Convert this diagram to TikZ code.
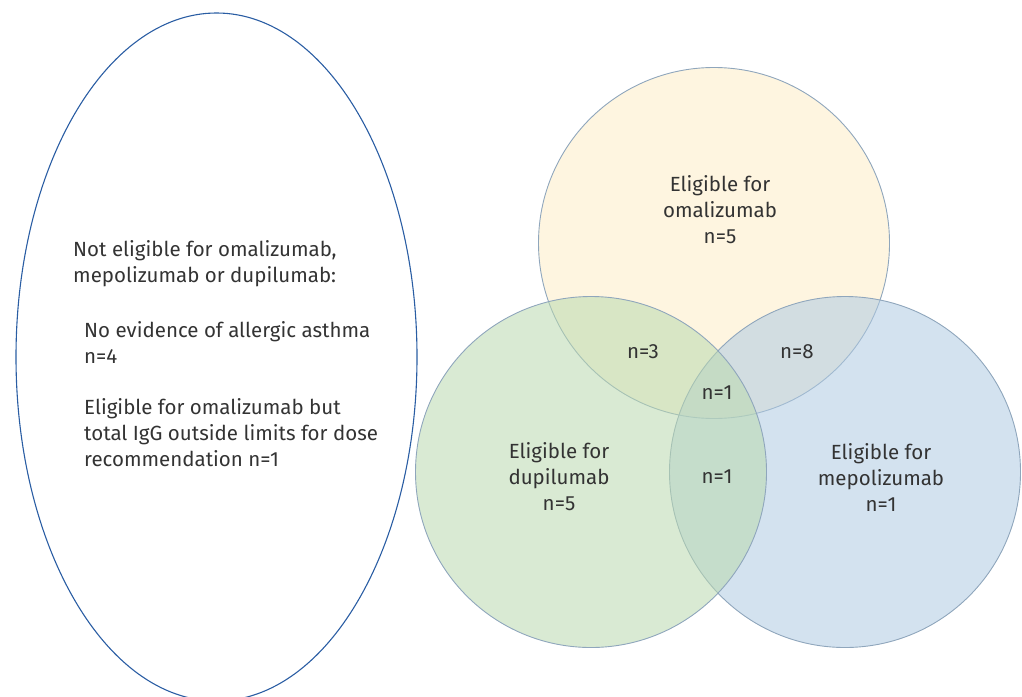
\documentclass[tikz,border=0pt]{standalone}
\usepackage{fontspec}
\setmainfont{Fira Sans}
\usepackage{tikz}
\usetikzlibrary{shapes.geometric,positioning}
\definecolor{ovalline}{RGB}{42,93,163}
\definecolor{ringline}{RGB}{143,166,188}
\definecolor{omafill}{RGB}{253,237,199}
\definecolor{mepfill}{RGB}{175,202,226}
\definecolor{dupfill}{RGB}{186,217,175}
\definecolor{labelgray}{RGB}{51,51,51}

\begin{document}
\begin{tikzpicture}
    [x=1pt,y=-1pt,every node/.style={text=labelgray,font=\fontsize{20.5}{26}\selectfont,inner sep=0pt},
     venn/.style={circle,draw=ringline,line width=0.9pt,fill opacity=0.55,minimum size=351pt},
     tag/.style={align=center}]
    \useasboundingbox (0,0) rectangle (1022,696);

    % the group not eligible for any drug
    \node[ellipse,draw=ovalline,line width=1.1pt,minimum width=401pt,minimum height=688pt] (Ex) at (216.5,357) {};
    \node[align=left,anchor=west] (ExHead) at (73,264) {Not eligible for omalizumab,\\mepolizumab or dupilumab:};
    \node[align=left,anchor=west] (ExAll) at (84,342) {No evidence of allergic asthma\\n=4};
    \node[align=left,anchor=west] (ExIgG) at (84,433) {Eligible for omalizumab but\\total IgG outside limits for dose\\recommendation n=1};

    % the three drug sets
    \node[venn,fill=omafill] (Oma) at (714,243) {};
    \node[venn,fill=mepfill] (Mep) at (845,472) {};
    \node[venn,fill=dupfill] (Dup) at (591,472) {};

    \node[tag] (OmaL) at (720,210) {Eligible for\\omalizumab\\n=5};
    \node[tag] (DupL) at (559,477) {Eligible for\\dupilumab\\n=5};
    \node[tag] (MepL) at (881,477) {Eligible for\\mepolizumab\\n=1};

    % overlaps
    \node (OmaDup) at (643,352) {n=3};
    \node (OmaMep) at (797,352) {n=8};
    \node (All) at (717,393) {n=1};
    \node (DupMep) at (717,477) {n=1};
\end{tikzpicture}
\end{document}
